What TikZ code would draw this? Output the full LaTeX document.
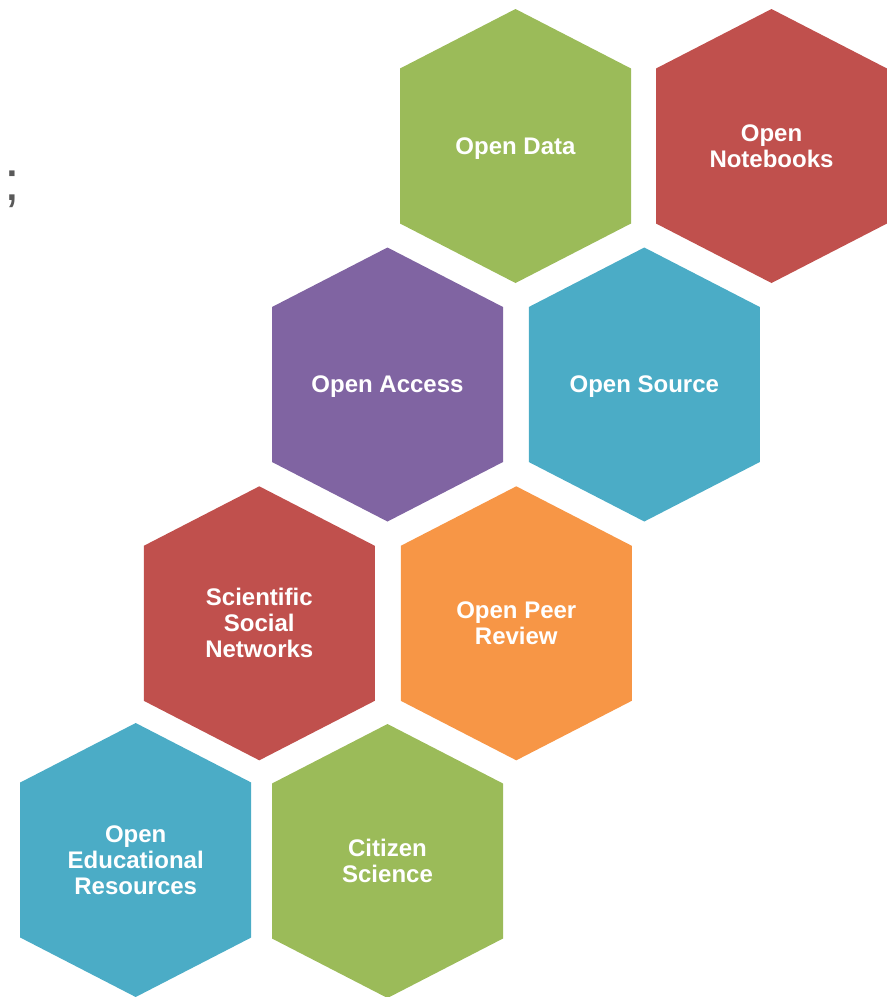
\documentclass[tikz,border=0pt]{standalone}
\usepackage{fontspec}
\setmainfont{Liberation Sans}
\definecolor{hgreen}{HTML}{9BBB59}
\definecolor{hred}{HTML}{C0504D}
\definecolor{hpurple}{HTML}{8064A2}
\definecolor{hblue}{HTML}{4BACC6}
\definecolor{horange}{HTML}{F79646}
\definecolor{semigray}{HTML}{595959}
\newcommand\hexcell[6][]{%
  \fill[#5] (#3,#4) +(0,-137) -- +(115.5,-77.5) -- +(115.5,77.5) -- +(0,137) -- +(-115.5,77.5) -- +(-115.5,-77.5) -- cycle;
  \node[hextext,#1] (#2) at (#3,#4) {#6};%
}
\tikzset{
  hextext/.style={text=white, align=center, font=\bfseries\fontsize{24}{26}\selectfont, inner sep=0pt},
  oneline/.style={yshift=-2.5pt},
}
\begin{document}
\begin{tikzpicture}[x=1pt,y=-1pt]
\useasboundingbox (0,0) rectangle (887,997);
\hexcell[oneline]{od}{515.5}{146}{hgreen}{Open Data}
\hexcell{on}{771.5}{146}{hred}{Open\\Notebooks}
\hexcell[oneline]{oa}{387.5}{384.5}{hpurple}{Open Access}
\hexcell[oneline]{os}{644.3}{384.5}{hblue}{Open Source}
\hexcell{ssn}{259.3}{623.3}{hred}{Scientific\\Social\\Networks}
\hexcell{opr}{516.3}{623.3}{horange}{Open Peer\\Review}
\hexcell{oer}{135.7}{860}{hblue}{Open\\Educational\\Resources}
\hexcell{cs}{387.5}{861}{hgreen}{Citizen\\Science}
\node[anchor=base, text=semigray, font=\fontsize{56}{60}\selectfont, inner sep=0pt] (semi) at (12,200) {;};
\end{tikzpicture}
\end{document}
